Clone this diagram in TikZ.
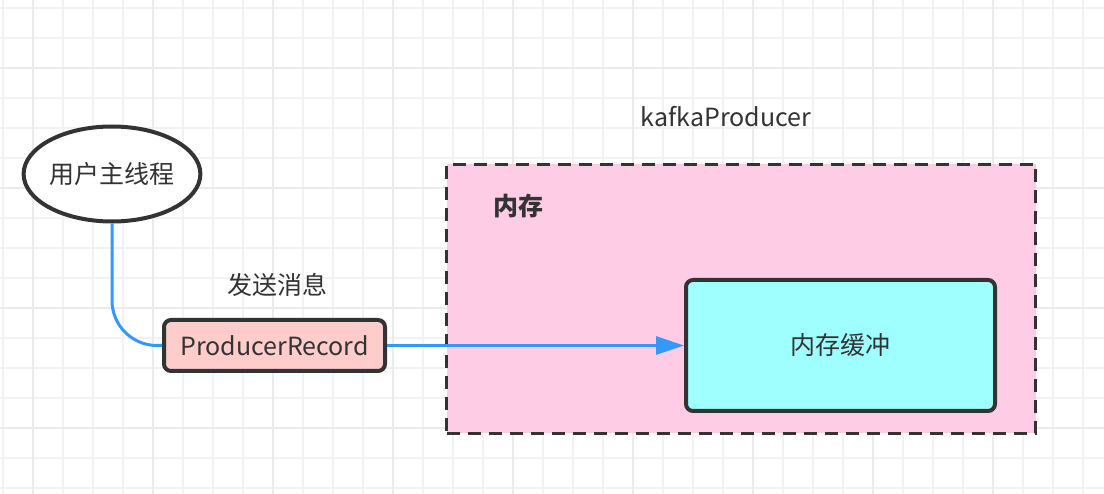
\documentclass[tikz,border=0pt]{standalone}
\usepackage{fontspec}
\newfontfamily\cjk{Noto Sans CJK SC}
\usepackage{tikz}
\usetikzlibrary{positioning,arrows.meta,shapes}
\definecolor{ink}{HTML}{333333}
\definecolor{flow}{HTML}{3399FF}
\definecolor{recfill}{HTML}{FFCCCC}
\definecolor{memfill}{HTML}{FFCCE6}
\definecolor{buffill}{HTML}{9FFFFF}
\tikzset{
	box/.style={draw=ink, line width=4pt, rounded corners=7pt, inner sep=0pt},
	lbl/.style={text=ink, font=\cjk\fontsize{25}{29}\selectfont},
	flowline/.style={draw=flow, line width=3pt},
}

\begin{document}
\begin{tikzpicture}[x=1pt,y=-1pt]
	    \useasboundingbox[fill=white] (0,0) rectangle (1104,494);
	    % grid
	    \foreach \x in {3,33,...,1103} \draw[line width=2pt, black!5] (\x,0) -- (\x,494);
	    \foreach \y in {8,38,...,494} \draw[line width=2pt, black!5] (0,\y) -- (1104,\y);
	    \foreach \x in {33,153,...,1103} \draw[line width=2pt, black!8] (\x,0) -- (\x,494);
	    \foreach \y in {68,188,...,494} \draw[line width=2pt, black!8] (0,\y) -- (1104,\y);
		\begin{scope}[every node/.style={lbl}]
	    \node[draw=ink, dash pattern=on 13pt off 8pt, line width=3.5pt, fill=memfill, minimum width=589pt, minimum height=269pt] (M) at (741,299) {};
	    \node (K) at (726,117) {kafkaProducer};
	    \node[font=\cjk\bfseries\fontsize{25}{29}\selectfont] (N) at (518,206) {内存};
	    \node[ellipse, draw=ink, line width=4pt, fill=white, minimum width=167pt, minimum height=95pt, inner sep=0pt] (T) at (112,174) {用户主线程};
	    \node[box, fill=recfill, minimum width=221pt, minimum height=51pt] (R) at (274.5,345.5) {ProducerRecord};
	    \node[box, fill=buffill, minimum width=309pt, minimum height=131pt] (B) at (840.5,345.5) {内存缓冲};
	    \node (S) at (277,285) {发送消息};
			\draw[flowline, rounded corners=45pt] (T.south) |- (R.west);
			\draw[flowline, -{Triangle[length=28pt,width=18pt]}] (R.east) -- (B.west);
		\end{scope}
	\end{tikzpicture}
\end{document}
